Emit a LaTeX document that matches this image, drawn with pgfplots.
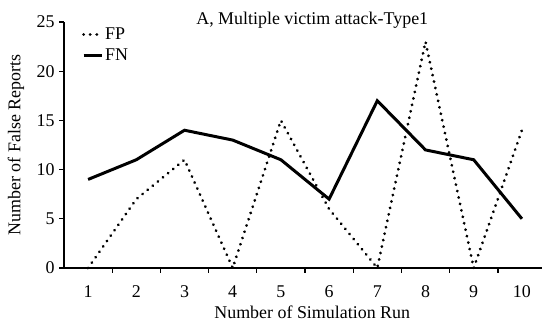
\documentclass[border=0pt]{standalone}
\usepackage{pgfplots}
\pgfplotsset{compat=1.18}
\usepackage{fontspec}
\setmainfont{Liberation Serif}
\begin{document}
\begin{tikzpicture}
\useasboundingbox (0bp,0bp) rectangle (542bp,323bp);
\begin{axis}[
  at={(64bp,55bp)}, anchor=south west,
  scale only axis, width=482bp, height=246bp,
  xmin=0.5, xmax=10.5, ymin=0, ymax=25,
  axis x line*=bottom, axis y line*=left,
  axis line style={line width=1.6pt,-},
  xtick={1,...,10},
  minor xtick={1.5,2.5,...,9.5},
  ytick={0,5,...,25},
  major x tick style={draw=none},
  minor x tick style={line width=1.4pt, black},
  y tick style={line width=1.4pt, black},
  tick align=outside,
  major tick length=5bp, minor tick length=5bp,
  /pgf/number format/assume math mode=true,
  tick label style={font=\fontsize{18}{21}\selectfont},
  xticklabel style={yshift=-9bp},
  yticklabel style={xshift=-1bp},
  xlabel={Number of Simulation Run},
  ylabel={Number of False Reports},
  label style={font=\fontsize{18}{21}\selectfont},
  xlabel style={at={(rel axis cs:0.515,0)}, anchor=north, yshift=-34bp},
  ylabel style={at={(rel axis cs:0,0.5)}, anchor=center, yshift=48bp},
  title={A, Multiple victim attack-Type1},
  title style={at={(rel axis cs:0.515,1.0)}, anchor=base, yshift=-8bp, font=\fontsize{18}{21}\selectfont},
  legend style={draw=none, fill=none, at={(rel axis cs:0.035,0.99)}, anchor=north west, font=\fontsize{18}{21}\selectfont, row sep=4bp, inner sep=1bp},
  legend cell align=left,
  legend image code/.code={\draw[#1] (0bp,0bp) -- (18bp,0bp);},
  clip=false,
]
\addplot[black, line width=3.1pt, line cap=round, dash pattern=on 0.01pt off 6.6pt] coordinates {
(1,0) (2,7) (3,11) (4,0) (5,15) (6,6) (7,0) (8,23) (9,0) (10,14)};
\addlegendentry{FP}
\addplot[black, line width=3pt, line join=miter] coordinates {
(1,9) (2,11) (3,14) (4,13) (5,11) (6,7) (7,17) (8,12) (9,11) (10,5)};
\addlegendentry{FN}
\end{axis}
\end{tikzpicture}
\end{document}
